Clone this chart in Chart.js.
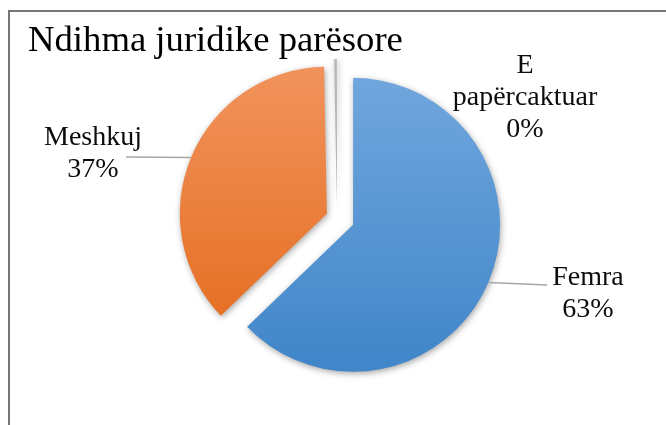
<!DOCTYPE html>
<html>
<head>
<meta charset="utf-8">
<script src="https://cdn.jsdelivr.net/npm/chart.js@4"></script>
<style>
  html, body { margin: 0; padding: 0; background: #fff; }
  canvas { display: block; }
</style>
</head>
<body>
<canvas id="chart" width="666" height="425"></canvas>
<script>
// Daten
const title = 'Ndihma juridike parësore';
const categories = ['Femra', 'Meshkuj', 'E papërcaktuar'];
const shares = [63, 37, 0.3];

// Farben der Segmente (oben / unten im Verlauf)
const topColors = ['#72a7de', '#f1935c', '#b8b8b8'];
const bottomColors = ['#4086c9', '#e4691a', '#979797'];
// Herausgezogene Segmente, Verschiebung in px entlang der Segmentmitte
const explode = [17.5, 11, 12];

// Beschriftungen: Mitte x, erste Grundlinie, Ende der Führungslinie
const labelLayout = [
    { x: 588, y: 285, lineTo: [547, 285] },
    { x: 93, y: 145, lineTo: [126, 157] },
    { x: 525, y: 73, lineTo: null }
];

// Vertikaler Verlauf pro Segment
function sliceGradient(context) {
    const chart = context.chart;
    const i = context.dataIndex;
    const area = chart.chartArea;
    if (!area) return topColors[i];
    const cy = (area.top + area.bottom) / 2;
    const g = chart.ctx.createLinearGradient(0, cy - 150, 0, cy + 150);
    g.addColorStop(0, topColors[i]);
    g.addColorStop(1, bottomColors[i]);
    return g;
}

// Text in Zeilen umbrechen
function wrap(ctx, text, maxWidth) {
    if (ctx.measureText(text).width <= maxWidth) return [text];
    return text.split(' ');
}

const decor = {
    id: 'decor',
    // Segmente verschieben, ohne den Radius zu ändern
    afterDatasetUpdate(chart, args) {
        args.meta.data.forEach((arc, i) => {
            const mid = (arc.startAngle + arc.endAngle) / 2;
            arc.x += Math.cos(mid) * explode[i];
            arc.y += Math.sin(mid) * explode[i];
        });
    },
    beforeDraw(chart) {
        const ctx = chart.ctx;
        ctx.save();
        ctx.fillStyle = '#fff';
        ctx.fillRect(0, 0, chart.width, chart.height);
        // Rahmen (läuft rechts und unten aus dem Bild)
        ctx.strokeStyle = '#7a7575';
        ctx.lineWidth = 2;
        ctx.strokeRect(9, 11, 720, 500);
        ctx.fillStyle = '#000';
        ctx.font = '36.7px "Liberation Serif"';
        ctx.textBaseline = 'alphabetic';
        ctx.textAlign = 'left';
        ctx.fillText(title, 28, 51);
        ctx.restore();
    },
    beforeDatasetsDraw(chart) {
        const ctx = chart.ctx;
        ctx.save();
        ctx.shadowColor = 'rgba(0,0,0,0.35)';
        ctx.shadowBlur = 6;
        ctx.shadowOffsetX = 1;
        ctx.shadowOffsetY = 2;
    },
    afterDatasetsDraw(chart) {
        const ctx = chart.ctx;
        ctx.restore();

        const meta = chart.getDatasetMeta(0);
        const total = shares.reduce((a, b) => a + b, 0);
        ctx.save();
        ctx.font = '28px "Liberation Serif"';
        meta.data.forEach((arc, i) => {
            const lay = labelLayout[i];
            const mid = (arc.startAngle + arc.endAngle) / 2;
            if (lay.lineTo) {
                ctx.strokeStyle = '#a6a6a6';
                ctx.lineWidth = 1.5;
                ctx.beginPath();
                ctx.moveTo(arc.x + Math.cos(mid) * arc.outerRadius, arc.y + Math.sin(mid) * arc.outerRadius);
                ctx.lineTo(lay.lineTo[0], lay.lineTo[1]);
                ctx.stroke();
            }
            const lines = wrap(ctx, categories[i], 150);
            lines.push(Math.round(shares[i] / total * 100) + '%');
            ctx.fillStyle = '#0d0d0d';
            ctx.textAlign = 'center';
            ctx.textBaseline = 'alphabetic';
            lines.forEach((t, k) => ctx.fillText(t, lay.x, lay.y + k * 32));
        });
        ctx.restore();
    }
};

new Chart(document.getElementById('chart'), {
    type: 'pie',
    data: {
        labels: categories,
        datasets: [{
            data: shares,
            backgroundColor: sliceGradient,
            borderWidth: 0,
            radius: 147
        }]
    },
    options: {
        responsive: false,
        animation: false,
        devicePixelRatio: 1,
        events: [],
        layout: { padding: { left: 8, right: 0, top: 11, bottom: 0 } },
        plugins: {
            legend: { display: false },
            tooltip: { enabled: false },
            title: { display: false }
        }
    },
    plugins: [decor]
});
</script>
</body>
</html>
